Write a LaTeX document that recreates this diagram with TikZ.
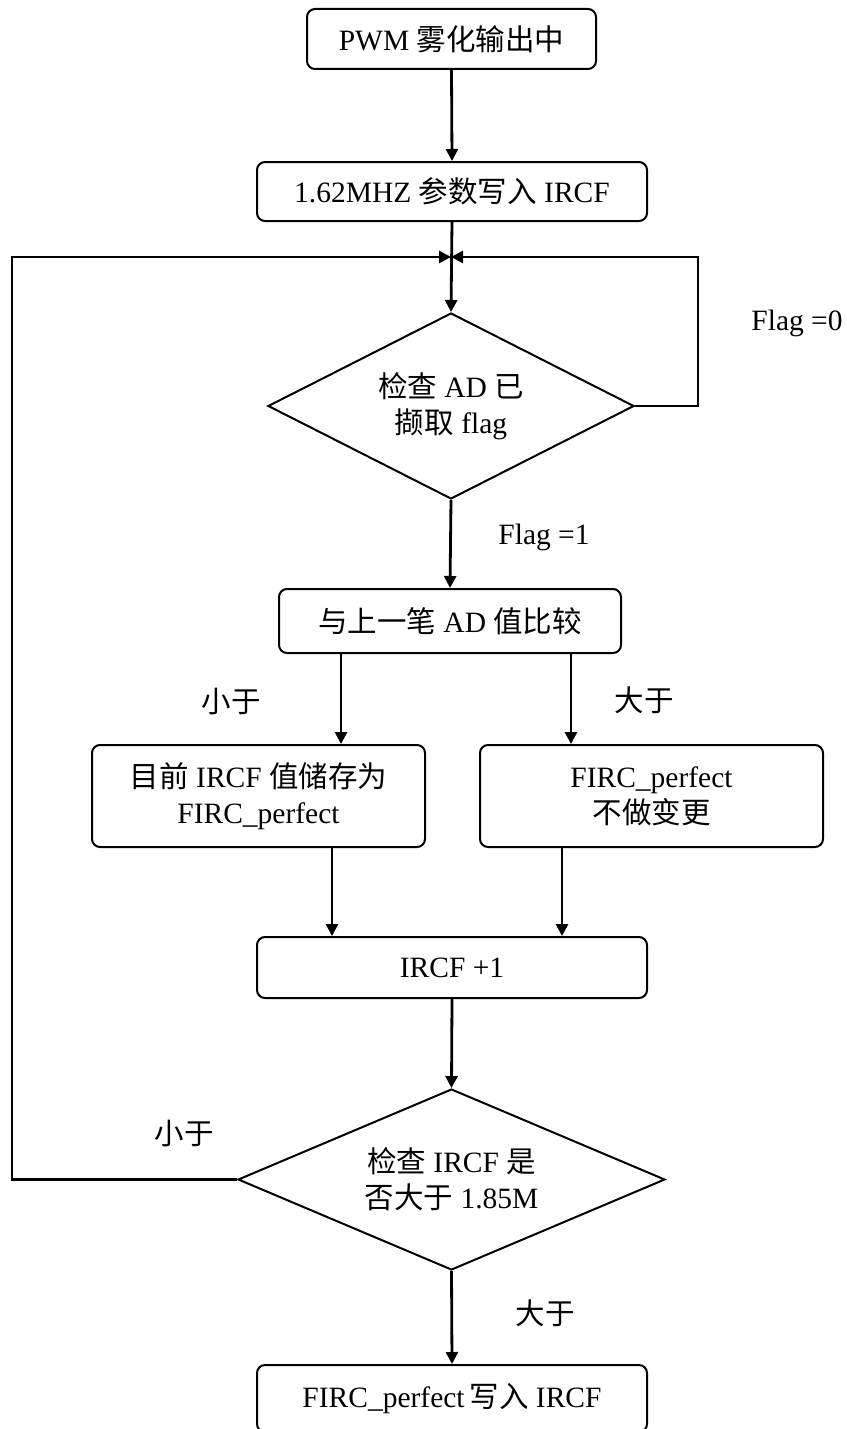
\documentclass[tikz,border=0pt]{standalone}
\usepackage{fontspec}
\setmainfont{Liberation Serif}
\newfontfamily\cjk{Noto Sans CJK SC}
\usetikzlibrary{shapes.geometric,arrows.meta}
\newcommand\zhs[1]{{\cjk #1}}
\begin{document}
\begin{tikzpicture}[x=1pt,y=-1pt,
  txt/.style={font=\fontsize{29.5}{36}\selectfont, align=center, inner sep=0pt},
  box/.style={txt, draw, rounded corners=8pt, line width=2pt, rectangle},
  dia/.style={txt, draw, diamond, aspect=2, line width=2pt},
  arr/.style={line width=2.8pt, -{Triangle[length=12pt,width=12pt]}},
  ln/.style={line width=2.8pt}]
\useasboundingbox (0,0) rectangle (846,1429);
\fill[white] (0,0) rectangle (846,1429);

\node[box, minimum width=289pt, minimum height=60pt] (b1) at (451.5,39) {PWM \zhs{雾化输出中}};
\node[box, minimum width=390pt, minimum height=59pt] (b2) at (452,191.5) {1.62MHZ \zhs{参数写入} IRCF};
\coordinate (J) at (451,257);
\node[dia, minimum width=366pt, minimum height=186pt] (d1) at (451,406) {\zhs{检查} AD \zhs{已}\\\zhs{撷取} flag};
\node[box, minimum width=342pt, minimum height=64pt] (b3) at (450,621) {\zhs{与上一笔} AD \zhs{值比较}};
\node[box, minimum width=333pt, minimum height=102pt] (b4) at (258.5,796) {\zhs{目前} IRCF \zhs{值储存为}\\FIRC\_perfect};
\node[box, minimum width=343pt, minimum height=102pt] (b5) at (651.5,796) {FIRC\_perfect\\\zhs{不做变更}};
\node[box, minimum width=390pt, minimum height=61pt] (b6) at (452,967.5) {IRCF +1};
\node[dia, minimum width=427pt, minimum height=181pt] (d2) at (451.5,1179.5) {\zhs{检查} IRCF \zhs{是}\\\zhs{否大于} 1.85M};
\node[box, minimum width=390pt, minimum height=67pt] (b7) at (452,1398.5) {FIRC\_perfect\,\zhs{写入} IRCF};

\coordinate (lt) at (12,257);
\coordinate (rt) at (698,257);

\draw[arr] (b1.south) -- (b2.north);
\draw[arr] (b2.south) -- (d1.north);
\draw[arr] (d2.west) -| (lt) -- (J);
\draw[arr] (d1.east) -| (rt) -- (J);
\draw[arr] (d1.south) -- (b3.north);
\draw[arr] ([xshift=82.5pt]b4.north |- b3.south) -- ([xshift=82.5pt]b4.north);
\draw[arr] ([xshift=-80.5pt]b5.north |- b3.south) -- ([xshift=-80.5pt]b5.north);
\draw[arr] ([xshift=73.5pt]b4.south) -- ([xshift=73.5pt]b4.south |- b6.north);
\draw[arr] ([xshift=-89.5pt]b5.south) -- ([xshift=-89.5pt]b5.south |- b6.north);
\draw[arr] (b6.south) -- (d2.north);
\draw[arr] (d2.south) -- (b7.north);

\node[txt] (l0) at (797,323) {Flag =0};
\node[txt] (l1) at (544,537) {Flag =1};
\node[txt] (l2) at (231,702) {\zhs{小于}};
\node[txt] (l3) at (644,700) {\zhs{大于}};
\node[txt] (l4) at (184,1133) {\zhs{小于}};
\node[txt] (l5) at (545,1313) {\zhs{大于}};
\end{tikzpicture}
\end{document}
